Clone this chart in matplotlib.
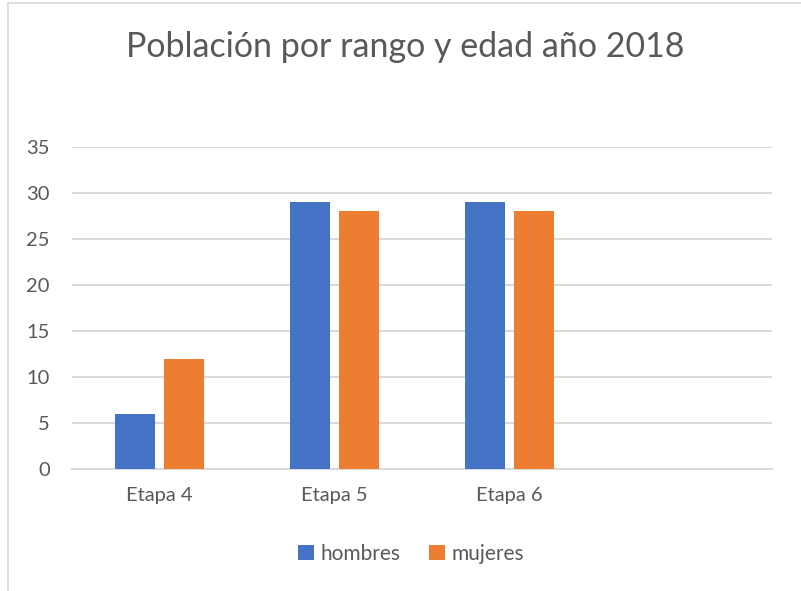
import numpy as np
import matplotlib.pyplot as plt
from matplotlib.lines import Line2D

categories = ['Etapa 4', 'Etapa 5', 'Etapa 6', '']
hombres = [6, 29, 29, np.nan]
mujeres = [12, 28, 28, np.nan]

plt.rcParams['font.family'] = ['Lato', 'DejaVu Sans']

fig = plt.figure(figsize=(8.01, 5.91), dpi=100)
ax = fig.add_axes([72 / 801, 1 - 469 / 591, 700 / 801, 322 / 591])

x = np.arange(len(categories))
w = 0.228
ax.bar(x - 0.142, hombres, w, color='#4472c4', label='hombres', zorder=3)
ax.bar(x + 0.142, mujeres, w, color='#ed7d31', label='mujeres', zorder=3)

ax.set_xlim(-0.5, len(categories) - 0.5)
ax.set_ylim(0, 35)
ax.set_yticks(range(0, 36, 5))
ax.set_xticks(x)
ax.set_xticklabels(categories)
ax.yaxis.grid(True, color='#d9d9d9', linewidth=1.4, zorder=0)
for s in ['top', 'right', 'left']:
    ax.spines[s].set_visible(False)
ax.spines['bottom'].set_color('#d9d9d9')
ax.spines['bottom'].set_linewidth(1.4)
ax.tick_params(axis='both', length=0, colors='#595959', labelsize=14.5)
ax.tick_params(axis='y', pad=16)
ax.tick_params(axis='x', pad=13)

fig.text(405 / 801, 1 - 47 / 591, 'Población por rango y edad año 2018',
         ha='center', va='center', fontsize=24.5, color='#595959')

ax.legend(loc='center', bbox_to_anchor=(411 / 801, 1 - 554 / 591),
          bbox_transform=fig.transFigure, ncol=2, frameon=False,
          fontsize=15, labelcolor='#595959', handlelength=0.75,
          handleheight=0.75, handletextpad=0.3, columnspacing=1.4)

# chart border (left and top edges visible)
fig.add_artist(Line2D([8 / 801, 8 / 801], [0, 1 - 3 / 591], color='#d9d9d9', lw=1.2))
fig.add_artist(Line2D([8 / 801, 1], [1 - 3 / 591, 1 - 3 / 591], color='#d9d9d9', lw=1.2))

fig.savefig('out.png', dpi=100)
